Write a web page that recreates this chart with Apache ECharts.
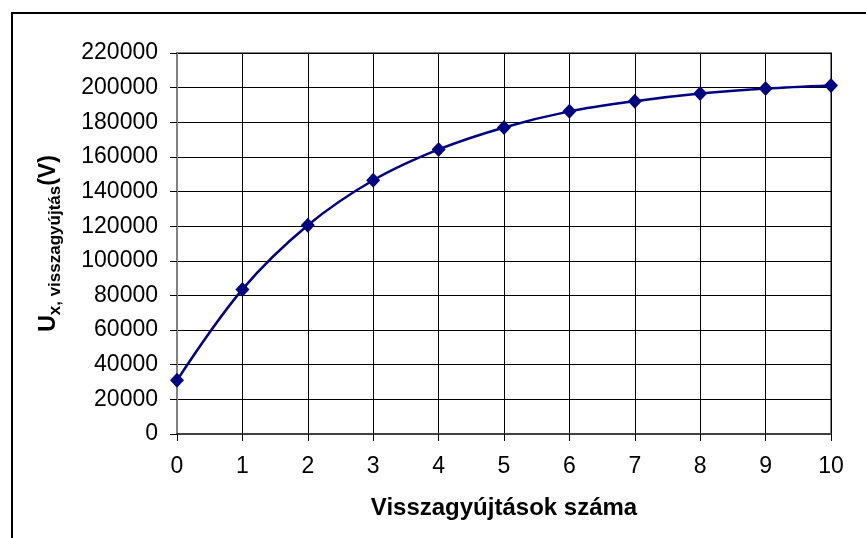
<!DOCTYPE html>
<html>
<head>
<meta charset="utf-8">
<script src="https://cdn.jsdelivr.net/npm/echarts@6/dist/echarts.min.js"></script>
<style>
  html, body { margin: 0; padding: 0; background: #fff; }
  #chart { width: 866px; height: 538px; }
</style>
</head>
<body>
<div id="chart"></div>
<script>
// Number of re-ignitions on the x axis, measured voltage on the y axis
const attempts = [0, 1, 2, 3, 4, 5, 6, 7, 8, 9, 10];
const voltage = [31000, 83500, 120500, 146500, 164300, 177000, 186300, 192200, 196600, 199500, 201300];
const yTicks = { min: 0, max: 220000, step: 20000 };
const xTicks = { min: 0, max: 10, step: 1 };

const points = attempts.map((a, i) => [a, voltage[i]]);

const FONT = '"Liberation Sans", Arial, sans-serif';
const chart = echarts.init(document.getElementById('chart'), null, { renderer: 'canvas' });

chart.setOption({
  backgroundColor: '#ffffff',
  animation: false,
  graphic: [{
    type: 'rect',
    shape: { x: 12, y: 13, width: 900, height: 600 },
    style: { fill: 'none', stroke: '#000', lineWidth: 2 },
    silent: true
  }],
  grid: {
    left: 177, right: 35, top: 53, bottom: 104,
    show: true, borderColor: '#808080', borderWidth: 2, backgroundColor: 'transparent'
  },
  xAxis: {
    type: 'value',
    min: xTicks.min, max: xTicks.max, interval: xTicks.step,
    name: 'Visszagyújtások száma',
    nameLocation: 'middle',
    nameGap: 62,
    nameTextStyle: { fontFamily: FONT, fontSize: 24, fontWeight: 'bold', color: '#000' },
    axisLine: { show: true, onZero: false, lineStyle: { color: '#404040', width: 2 } },
    axisTick: { show: true, inside: false, length: 7, lineStyle: { color: '#000', width: 1 } },
    axisLabel: { fontFamily: FONT, fontSize: 23, color: '#000', margin: 21, formatter: v => String(v) },
    splitLine: { show: true, lineStyle: { color: '#000', width: 1 } }
  },
  yAxis: {
    type: 'value',
    min: yTicks.min, max: yTicks.max, interval: yTicks.step,
    name: '{u|U}{sub|x, visszagyújtás}{u|(V)}',
    nameLocation: 'middle',
    nameRotate: 90,
    nameGap: 113,
    nameTextStyle: {
      fontFamily: FONT, color: '#000',
      rich: {
        u: { fontFamily: FONT, fontSize: 23, fontWeight: 'bold', lineHeight: 31, verticalAlign: 'middle', color: '#000' },
        sub: { fontFamily: FONT, fontSize: 17, fontWeight: 'bold', lineHeight: 17, verticalAlign: 'bottom', color: '#000' }
      }
    },
    axisLine: { show: true, lineStyle: { color: '#808080', width: 2 } },
    axisTick: { show: true, inside: false, length: 7, lineStyle: { color: '#000', width: 1 } },
    axisLabel: { fontFamily: FONT, fontSize: 23, color: '#000', margin: 19, formatter: v => String(v) },
    splitLine: { show: true, lineStyle: { color: '#000', width: 1 } }
  },
  series: [{
    type: 'line',
    data: points,
    smooth: 0.35,
    symbol: 'diamond',
    symbolSize: [14, 15],
    showSymbol: true,
    lineStyle: { color: '#000080', width: 2.5 },
    itemStyle: { color: '#000080', borderWidth: 0 },
    clip: false
  }]
});
</script>
</body>
</html>
